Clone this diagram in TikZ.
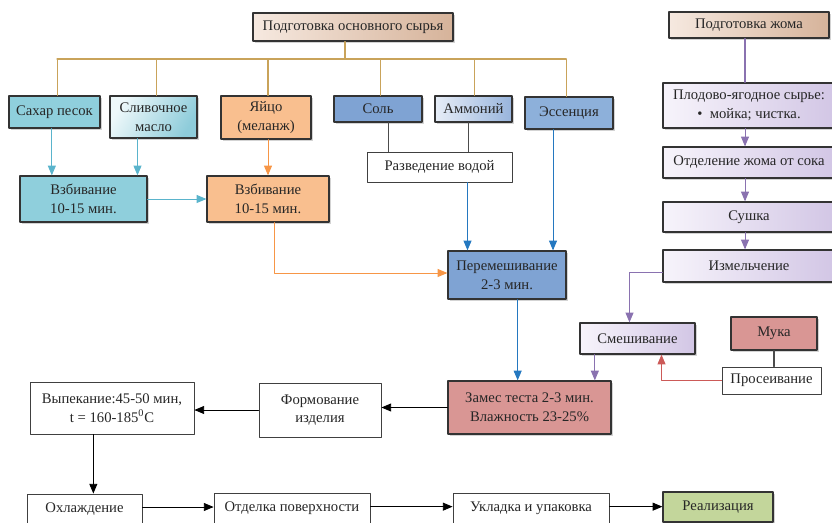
\documentclass[tikz,border=0pt]{standalone}
\usepackage{fontspec}
\setmainfont{Liberation Serif}
\usetikzlibrary{arrows,shadows}

\definecolor{prepL}{HTML}{F6E9E0}
\definecolor{prepR}{HTML}{D6B39A}
\definecolor{tealbox}{HTML}{8FCFDC}
\definecolor{butterL}{HTML}{EEF8FA}
\definecolor{butterR}{HTML}{8ECCDA}
\definecolor{eggbox}{HTML}{F9BF8F}
\definecolor{saltbox}{HTML}{7FA3D3}
\definecolor{ammonL}{HTML}{E6EDF7}
\definecolor{ammonR}{HTML}{98B4DC}
\definecolor{essbox}{HTML}{8DB0DA}
\definecolor{rosebox}{HTML}{D99694}
\definecolor{lavL}{HTML}{F7F4FB}
\definecolor{lavR}{HTML}{D2C6E5}
\definecolor{greenbox}{HTML}{C3D69B}
\definecolor{busline}{HTML}{C9A35A}
\definecolor{cyanarr}{HTML}{5AB4CC}
\definecolor{orangearr}{HTML}{F79646}
\definecolor{bluearr}{HTML}{2478C0}
\definecolor{purparr}{HTML}{8A72B0}
\definecolor{redarr}{HTML}{CC5A58}

\begin{document}
\begin{tikzpicture}[line cap=round,line join=round,>=triangle 45,x=0.75pt,y=-0.75pt,
  every node/.style={font=\fontsize{11}{14}\selectfont, align=center, inner sep=1pt, text=black!85},
  sz/.style 2 args={minimum width=#1*0.75pt, minimum height=#2*0.75pt},
  colbox/.style={draw=black!80, line width=1pt, drop shadow={shadow xshift=1.2pt, shadow yshift=-1.2pt, opacity=0.35}},
  plainbox/.style={draw=black!75, line width=0.7pt, fill=white},
  bus/.style={draw=busline, line width=0.9pt},
  arr/.style={->, line width=0.65pt}]
\useasboundingbox (0,0) rectangle (832,523);
\clip (0,0) rectangle (832,523);

% main raw materials
\node[colbox, left color=prepL, right color=prepR, sz={200}{28}] (prep) at (353,27) {Подготовка основного сырья};
\node[colbox, fill=tealbox, sz={91}{32}] (sugar) at (54.5,112) {Сахар песок};
\node[colbox, left color=butterL, right color=butterR, shading angle=60, sz={87}{42}] (butter) at (153.5,117) {Сливочное\\масло};
\node[colbox, fill=eggbox, sz={90}{43}] (egg) at (266,117.5) {Яйцо\\(меланж)};
\node[colbox, fill=saltbox, sz={88}{26}] (salt) at (378,109) {Соль};
\node[colbox, left color=ammonL, right color=ammonR, sz={77}{26}] (ammon) at (473.5,109) {Аммоний};
\node[colbox, fill=essbox, sz={88}{32}] (essence) at (569,113) {Эссенция};
\node[plainbox, sz={145}{30}] (dilute) at (439.5,167) {Разведение водой};
\node[colbox, fill=tealbox, sz={127}{46}] (whipA) at (83.5,199) {Взбивание\\10-15 мин.};
\node[colbox, fill=eggbox, sz={122}{46}] (whipB) at (268,199) {Взбивание\\10-15 мин.};
\node[colbox, fill=saltbox, sz={118}{48}] (mix) at (507,275) {Перемешивание\\2-3 мин.};
\node[colbox, fill=rosebox, sz={163}{53}] (dough) at (529.5,407.5) {Замес теста 2-3 мин.\\Влажность 23-25\%};

% pulp
\node[colbox, left color=prepL, right color=prepR, sz={160}{26}] (pulpprep) at (749,25) {Подготовка жома};
\node[colbox, left color=lavL, right color=lavR, sz={172}{45}] (fruit) at (749,105.5) {Плодово-ягодное сырье:\\•\enspace мойка; чистка.};
\node[colbox, left color=lavL, right color=lavR, sz={172}{31}] (separ) at (749,162.5) {Отделение жома от сока};
\node[colbox, left color=lavL, right color=lavR, sz={172}{30}] (dry) at (749,217) {Сушка};
\node[colbox, left color=lavL, right color=lavR, sz={172}{32}] (grind) at (749,266) {Измельчение};
\node[colbox, left color=lavL, right color=lavR, sz={115}{31}] (blend) at (637.5,338.5) {Смешивание};
\node[colbox, fill=rosebox, sz={86}{33}] (flour) at (774,333.5) {Мука};
\node[plainbox, sz={99}{27}] (sift) at (771.5,380.5) {Просеивание};

% baking and after
\node[plainbox, sz={122}{54}] (form) at (320,410) {Формование\\изделия};
\node[plainbox, sz={164}{52}] (bake) at (112,408) {Выпекание:45-50 мин,\\t = 160-185\textsuperscript{0}C};
\node[plainbox, sz={115}{30}] (cool) at (84.5,509) {Охлаждение};
\node[plainbox, sz={156}{30}] (finish) at (292,508) {Отделка поверхности};
\node[plainbox, sz={156}{30}] (pack) at (531,508) {Укладка и упаковка};
\node[colbox, fill=greenbox, sz={110}{30}] (sale) at (718,507) {Реализация};

\coordinate (busL) at (57,59);
\coordinate (busR) at (566,59);
\draw[bus] (busL) -- (busR);
\draw[bus] ([xshift=-6pt]prep.south) -- ([xshift=-6pt]prep.south |- busL);
\draw[bus] ([xshift=2pt]sugar.north) -- ([xshift=2pt]sugar.north |- busL);
\draw[bus] ([xshift=2pt]butter.north) -- ([xshift=2pt]butter.north |- busL);
\draw[bus] ([xshift=1.5pt]egg.north) -- ([xshift=1.5pt]egg.north |- busL);
\draw[bus] ([xshift=2pt]salt.north) -- ([xshift=2pt]salt.north |- busL);
\draw[bus] ([xshift=1pt]ammon.north) -- ([xshift=1pt]ammon.north |- busL);
\draw[bus] ([xshift=-2pt]essence.north) -- ([xshift=-2pt]essence.north |- busL);

\draw[draw=black!70, line width=0.8pt] ([xshift=8pt]salt.south) -- ([xshift=8pt]salt.south |- dilute.north);
\draw[draw=black!70, line width=0.8pt] ([xshift=-4pt]ammon.south) -- ([xshift=-4pt]ammon.south |- dilute.north);

\draw[arr, cyanarr] ([xshift=-2pt]sugar.south) -- ([xshift=-2pt]sugar.south |- whipA.north);
\draw[arr, cyanarr] ([xshift=-12pt]butter.south) -- ([xshift=-12pt]butter.south |- whipA.north);
\draw[arr, cyanarr] (whipA.east) -- (whipB.west);
\draw[arr, orangearr] ([xshift=1.5pt]egg.south) -- ([xshift=1.5pt]egg.south |- whipB.north);
\draw[arr, orangearr] ([xshift=4.5pt]whipB.south) |- ([yshift=1.5pt]mix.west);

\draw[arr, bluearr] ([xshift=21pt]dilute.south) -- ([xshift=21pt]dilute.south |- mix.north);
\draw[arr, bluearr] ([xshift=-12pt]essence.south) -- ([xshift=-12pt]essence.south |- mix.north);
\draw[arr, bluearr] ([xshift=8pt]mix.south) -- ([xshift=8pt]mix.south |- dough.north);

\draw[purparr, line width=0.8pt] ([xshift=-3pt]pulpprep.south) -- ([xshift=-3pt]pulpprep.south |- fruit.north);
\draw[arr, purparr] ([xshift=-3pt]fruit.south) -- ([xshift=-3pt]fruit.south |- separ.north);
\draw[arr, purparr] ([xshift=-3pt]separ.south) -- ([xshift=-3pt]separ.south |- dry.north);
\draw[arr, purparr] ([xshift=-3pt]dry.south) -- ([xshift=-3pt]dry.south |- grind.north);
\draw[arr, purparr] ([yshift=-5pt]grind.west) -| ([xshift=-6pt]blend.north);
\draw[arr, purparr] ([xshift=-32pt]blend.south) -- ([xshift=-32pt]blend.south |- dough.north);

\draw[draw=black!70, line width=0.8pt] (flour.south) -- (flour.south |- sift.north);
\draw[arr, redarr] (sift.west) -| ([xshift=18pt]blend.south);

\draw[arr, black] (dough.west) -- (dough.west -| form.east);
\draw[arr, black] (form.west) -- (form.west -| bake.east);
\draw[arr, black] ([xshift=-14pt]bake.south) -- ([xshift=-14pt]bake.south |- cool.north);
\draw[arr, black] ([yshift=1.5pt]cool.east) -- ([yshift=1.5pt]cool.east -| finish.west);
\draw[arr, black] ([yshift=1pt]finish.east) -- ([yshift=1pt]finish.east -| pack.west);
\draw[arr, black] ([yshift=1pt]pack.east) -- ([yshift=1pt]pack.east -| sale.west);
\end{tikzpicture}
\end{document}
